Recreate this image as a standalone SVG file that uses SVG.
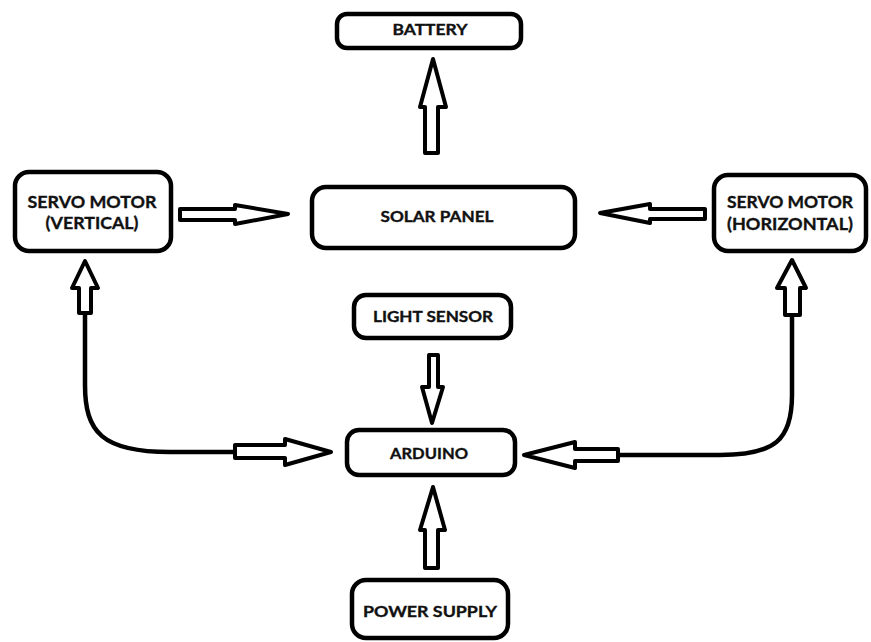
<svg xmlns="http://www.w3.org/2000/svg" width="871" height="642" viewBox="0 0 871 642">
<style>
.box{fill:#fff;stroke:#000;stroke-width:4.5}
.arr{fill:#fff;stroke:#000;stroke-width:4;stroke-linejoin:round}
.ln{fill:none;stroke:#000;stroke-width:4.5;stroke-linecap:round}
text{font-family:Lato,"Open Sans","Liberation Sans",sans-serif;font-weight:700;fill:#111;stroke:#111;stroke-width:0.35;text-anchor:middle}
.s{font-size:15px}
.m{font-size:17px}
</style>
<rect width="871" height="642" fill="#fff"/>
<g id="connectors">
<path class="ln" d="M85,313 L85,385 C85,432 102,452 170,452 L236,452"/>
<path class="ln" d="M792,315 L792,395 C792,440 775,455 720,455 L618,455"/>
<polygon class="arr" points="433,59 446,107 438,107 438,153 425,153 425,107 420,107"/>
<polygon class="arr" points="433,487 445,530 438,530 438,568 425,568 425,530 420,530"/>
<polygon class="arr" points="429,355 438,355 438,387 443,387 432,423 422,387 429,387"/>
<polygon class="arr" points="180,209 235,209 235,205 288,214 235,224 235,220 180,220"/>
<polygon class="arr" points="705,209 650,209 650,204 600,213 650,223 650,219 705,219"/>
<polygon class="arr" points="85,261 98,288 91,288 91,313 79,313 79,288 72,288"/>
<polygon class="arr" points="792,260 806,288 800,288 800,315 785,315 785,288 777,288"/>
<polygon class="arr" points="235,445 285,445 285,439 331,452 285,465 285,458 235,458"/>
<polygon class="arr" points="618,449 575,449 575,442 524,455 575,468 575,461 618,461"/>
</g>
<g id="battery">
<rect class="box" x="337" y="14" width="184" height="34" rx="10"/>
<text class="s" x="430" y="35" textLength="75" lengthAdjust="spacingAndGlyphs">BATTERY</text>
</g>
<g id="servo-vertical">
<rect class="box" x="15" y="172" width="156" height="79" rx="14"/>
<text class="m" x="92" y="208" textLength="129" lengthAdjust="spacingAndGlyphs">SERVO MOTOR</text>
<text class="m" x="92" y="229" textLength="93" lengthAdjust="spacingAndGlyphs">(VERTICAL)</text>
</g>
<g id="solar-panel">
<rect class="box" x="312" y="187" width="263" height="61" rx="14"/>
<text class="s" x="437" y="222" textLength="113" lengthAdjust="spacingAndGlyphs">SOLAR PANEL</text>
</g>
<g id="servo-horizontal">
<rect class="box" x="714" y="175" width="152" height="76" rx="14"/>
<text class="m" x="790" y="208" textLength="126" lengthAdjust="spacingAndGlyphs">SERVO MOTOR</text>
<text class="m" x="790" y="230" textLength="126" lengthAdjust="spacingAndGlyphs">(HORIZONTAL)</text>
</g>
<g id="light-sensor">
<rect class="box" x="354" y="295" width="157" height="43" rx="12"/>
<text class="s" x="433" y="322" textLength="120" lengthAdjust="spacingAndGlyphs">LIGHT SENSOR</text>
</g>
<g id="arduino">
<rect class="box" x="347" y="430" width="168" height="45" rx="12"/>
<text class="s" x="429" y="459" textLength="78" lengthAdjust="spacingAndGlyphs">ARDUINO</text>
</g>
<g id="power-supply">
<rect class="box" x="352" y="580" width="156" height="58" rx="14"/>
<text class="s" x="430" y="617" textLength="134" lengthAdjust="spacingAndGlyphs">POWER SUPPLY</text>
</g>
</svg>
